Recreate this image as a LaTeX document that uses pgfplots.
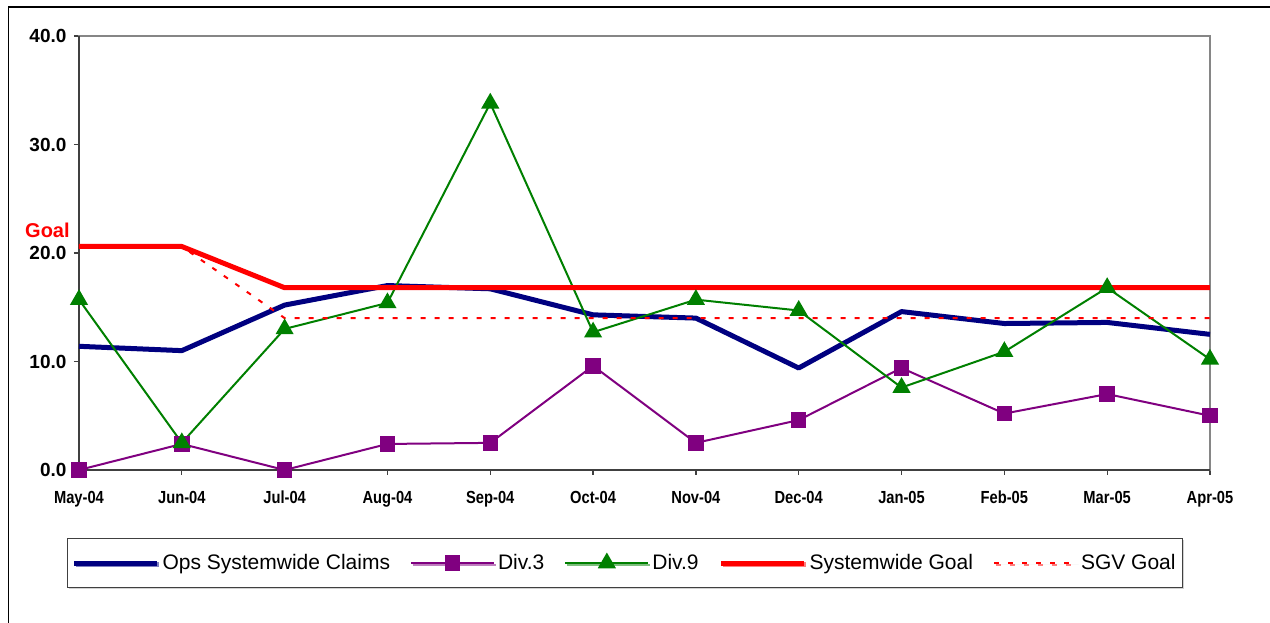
\documentclass[border=0pt]{standalone}
\usepackage{pgfplots}
\pgfplotsset{compat=1.18}
\usepackage{fontspec}
\setmainfont{Liberation Sans}
\newfontfamily\narrowfont[FakeStretch=0.84]{Liberation Sans}
\usetikzlibrary{shadows}
\definecolor{navyc}{HTML}{000080}
\definecolor{purplec}{HTML}{800080}
\definecolor{greenc}{HTML}{008000}
\definecolor{redc}{HTML}{FF0000}
\definecolor{axdark}{HTML}{404040}
\definecolor{axgray}{HTML}{868686}
\begin{document}
\begin{tikzpicture}
\useasboundingbox (0,0) rectangle (1270pt,623pt);
\fill[white] (0,0) rectangle (1270pt,623pt);
\draw[black, line width=1.5pt] (8.5pt,0) -- (8.5pt,616pt) -- (1272pt,616pt);
\begin{axis}[
  at={(79pt,153pt)}, anchor=south west,
  scale only axis, width=1131pt, height=434pt,
  xmin=0, xmax=11, ymin=0, ymax=40,
  xtick={0,...,11},
  xticklabels={May-04,Jun-04,Jul-04,Aug-04,Sep-04,Oct-04,Nov-04,Dec-04,Jan-05,Feb-05,Mar-05,Apr-05},
  ytick={0,10,20,30,40},
  /pgf/number format/assume math mode=true,
  yticklabel style={/pgf/number format/fixed, /pgf/number format/fixed zerofill, /pgf/number format/precision=1},
  yticklabel style={font=\fontsize{19}{19}\selectfont\bfseries, xshift=-4pt},
  xticklabel style={font=\fontsize{17.5}{17.5}\selectfont\narrowfont\bfseries, text height=13pt, text depth=3.5pt, yshift=-12pt},
  xtick pos=left, ytick pos=left,
  tick align=outside,
  major tick length=5pt,
  every tick/.style={axdark, line width=1.2pt},
  axis line style={axgray, line width=2pt},
  clip=false,
  legend columns=5,
  legend style={
    at={(0.4828,-0.2143)}, anchor=center,
    draw=axdark, line width=1.2pt, fill=white,
    drop shadow={shadow xshift=1.5pt, shadow yshift=-1.5pt, fill=gray!70},
    font=\fontsize{21}{21}\selectfont,
    inner xsep=4pt, inner ysep=13pt,
    nodes={inner sep=3pt},
    /tikz/every odd column/.append style={column sep=0pt},
    /tikz/every even column/.append style={column sep=17pt},
  },
  legend cell align=left,
  legend image code/.code={%
    \draw[#1, mark=none] (0pt,0pt) -- (83pt,0pt);
    \draw[#1] plot[only marks] coordinates {(41.5pt,0pt)};},
]
\draw[axdark, line width=2pt] (rel axis cs:0,1) -- (rel axis cs:0,0) -- (rel axis cs:1,0);
\addplot[navyc, line width=5pt, line join=round] coordinates {
 (0,11.4) (1,11.0) (2,15.2) (3,17.0) (4,16.7) (5,14.3) (6,14.0) (7,9.4) (8,14.6) (9,13.5) (10,13.6) (11,12.5)};
\addlegendentry{Ops Systemwide Claims}
\addplot[purplec, line width=2pt, mark=square*, mark size=6.7pt, mark options={solid}] coordinates {
 (0,0.0) (1,2.4) (2,0.0) (3,2.4) (4,2.5) (5,9.6) (6,2.5) (7,4.6) (8,9.4) (9,5.2) (10,7.0) (11,5.0)};
\addlegendentry{Div.3}
\addplot[greenc, line width=2pt, mark=triangle*, mark size=8.5pt, mark options={solid}] coordinates {
 (0,15.7) (1,2.5) (2,13.0) (3,15.4) (4,33.8) (5,12.7) (6,15.7) (7,14.7) (8,7.6) (9,10.9) (10,16.8) (11,10.2)};
\addlegendentry{Div.9}
\addplot[redc, line width=5pt, line join=round] coordinates {
 (0,20.6) (1,20.6) (2,16.8) (3,16.8) (4,16.8) (5,16.8) (6,16.8) (7,16.8) (8,16.8) (9,16.8) (10,16.8) (11,16.8)};
\addlegendentry{Systemwide Goal}
\addplot[redc, line width=2pt, dash pattern=on 5pt off 9pt] coordinates {
 (0,20.6) (1,20.6) (2,14.0) (3,14.0) (4,14.0) (5,14.0) (6,14.0) (7,14.0) (8,14.0) (9,14.0) (10,14.0) (11,14.0)};
\addlegendentry{SGV Goal}
\end{axis}
\node[anchor=base west, inner sep=0pt, text=redc, font=\fontsize{20}{20}\selectfont\bfseries] at (25pt,385pt) {Goal};
\end{tikzpicture}
\end{document}
